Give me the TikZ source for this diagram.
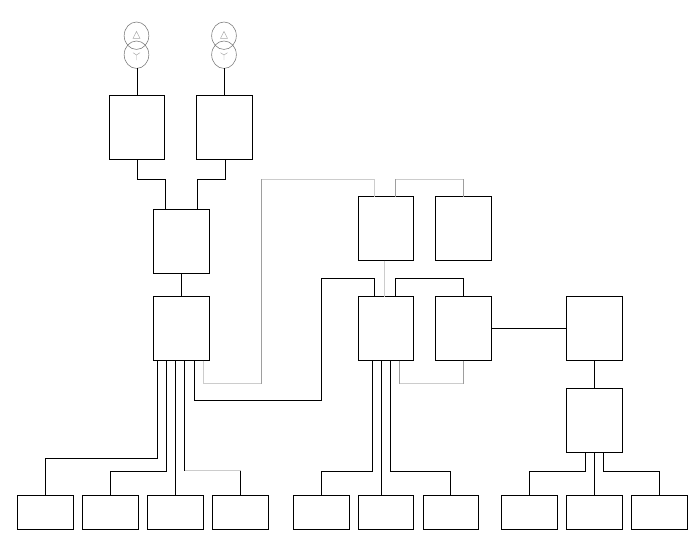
\documentclass[tikz,border=0pt]{standalone}
\usetikzlibrary{shapes.geometric}
\tikzset{
  boxbase/.style={draw=black,line width=0.75pt,inner sep=0pt,outer sep=0pt,anchor=north west},
  box/.style={boxbase,minimum width=#1*0.75pt,minimum height=48pt},
  leaf/.style={boxbase,minimum width=#1*0.75pt,minimum height=25.5pt},
  wire/.style={draw=black,line width=0.75pt},
  lightwire/.style={draw=black!20,line width=0.75pt},
  midwire/.style={draw=black!38,line width=0.75pt},
  coil/.style={draw=black!55,line width=0.4pt,ellipse,minimum width=18.5pt,minimum height=20.6pt,inner sep=0pt,outer sep=0pt},
  sym/.style={draw=black!35,line width=0.35pt}
}
\begin{document}
\begin{tikzpicture}[x=0.75pt,y=-0.75pt]
\useasboundingbox (0,0) rectangle (696,540);
% boxes
\node[box=55] (a) at (109.5,95.5) {};
\node[box=56] (b) at (196.5,95.5) {};
\node[box=56] (c) at (153.5,209.5) {};
\node[box=56] (d) at (153.5,296.5) {};
\node[box=55] (e) at (358.5,196.5) {};
\node[box=56] (f) at (435.5,196.5) {};
\node[box=55] (g) at (358.5,296.5) {};
\node[box=56] (h) at (435.5,296.5) {};
\node[box=56] (i) at (566.5,296.5) {};
\node[box=56] (j) at (566.5,388.5) {};
\foreach \n/\x/\w in {l1/17.5/56,l2/82.5/56,l3/147.5/56,l4/212.5/56,l5/293.5/56,l6/358.5/55,l7/423.5/55,l8/501.5/56,l9/566.5/56,l10/631.5/56}
  \node[leaf=\w] (\n) at (\x,495.5) {};
% transformers
\node[coil] (t1) at (136.5,35.7) {};
\node[coil] (t2) at (136.5,54.7) {};
\node[coil] (t3) at (224,35.7) {};
\node[coil] (t4) at (224,54.7) {};
\draw[sym] (136.5,31.5) -- (133,38.3) -- (140,38.3) -- cycle;
\draw[sym] (224,31.5) -- (220.5,38.3) -- (227.5,38.3) -- cycle;
\draw[sym] (136.5,55) -- (133,52.7) (136.5,55) -- (140,52.7) (136.5,55) -- (136.5,60);
\draw[sym] (224,55) -- (220.5,52.7) (224,55) -- (227.5,52.7) (224,55) -- (224,60);
\draw[wire] (137.5,0 |- t2.south) -- (137.5,0 |- a.north);
\draw[wire] (224.5,0 |- t4.south) -- (224.5,0 |- b.north);
% top section
\draw[wire] (137.5,0 |- a.south) -- (137.5,179.5) -- (165.5,179.5) -- (165.5,0 |- c.north);
\draw[wire] (225.5,0 |- b.south) -- (225.5,179.5) -- (197.5,179.5) -- (197.5,0 |- c.north);
\draw[wire] (181.5,0 |- c.south) -- (181.5,0 |- d.north);
% light wires
\draw[lightwire] (203.5,0 |- d.south) -- (203.5,383.5) -- (261.5,383.5);
\draw[midwire] (261.5,383.5) -- (261.5,179);
\draw[lightwire] (261.5,179) -- (374,179) -- (374,0 |- e.north);
\draw[lightwire] (395.5,179) -- (463.5,179);
\draw[midwire] (395.5,0 |- e.north) -- (395.5,179);
\draw[midwire] (463.5,0 |- f.north) -- (463.5,179);
\draw[lightwire] (384.5,0 |- e.south) -- (384.5,0 |- g.north);
\draw[lightwire] (184.5,470.5) -- (240.5,470.5);
\draw[lightwire] (399.5,383.5) -- (463.5,383.5);
\draw[midwire] (399.5,0 |- g.south) -- (399.5,383.5);
\draw[midwire] (463.5,0 |- h.south) -- (463.5,383.5);
% feeder wires
\draw[wire] (157.5,0 |- d.south) -- (157.5,458.5) -- (45.5,458.5) -- (45.5,0 |- l1.north);
\draw[wire] (166.5,0 |- d.south) -- (166.5,471.5) -- (110.5,471.5) -- (110.5,0 |- l2.north);
\draw[wire] (175.5,0 |- d.south) -- (175.5,0 |- l3.north);
\draw[wire] (184.5,0 |- d.south) -- (184.5,470.5);
\draw[wire] (240.5,470.5) -- (240.5,0 |- l4.north);
\draw[wire] (194.5,0 |- d.south) -- (194.5,400.5) -- (321.5,400.5) -- (321.5,278.5) -- (374.5,278.5) -- (374.5,0 |- g.north);
\draw[wire] (395.5,0 |- g.north) -- (395.5,278.5) -- (463.5,278.5) -- (463.5,0 |- h.north);
\draw[wire] (372.5,0 |- g.south) -- (372.5,471.5) -- (321.5,471.5) -- (321.5,0 |- l5.north);
\draw[wire] (381.5,0 |- g.south) -- (381.5,0 |- l6.north);
\draw[wire] (390.5,0 |- g.south) -- (390.5,471.5) -- (450.5,471.5) -- (450.5,0 |- l7.north);
\draw[wire] (h.east |- 0,328.5) -- (i.west |- 0,328.5);
\draw[wire] (594.5,0 |- i.south) -- (594.5,0 |- j.north);
\draw[wire] (585.5,0 |- j.south) -- (585.5,471.5) -- (529.5,471.5) -- (529.5,0 |- l8.north);
\draw[wire] (594.5,0 |- j.south) -- (594.5,0 |- l9.north);
\draw[wire] (603.5,0 |- j.south) -- (603.5,471.5) -- (659.5,471.5) -- (659.5,0 |- l10.north);
\end{tikzpicture}
\end{document}
